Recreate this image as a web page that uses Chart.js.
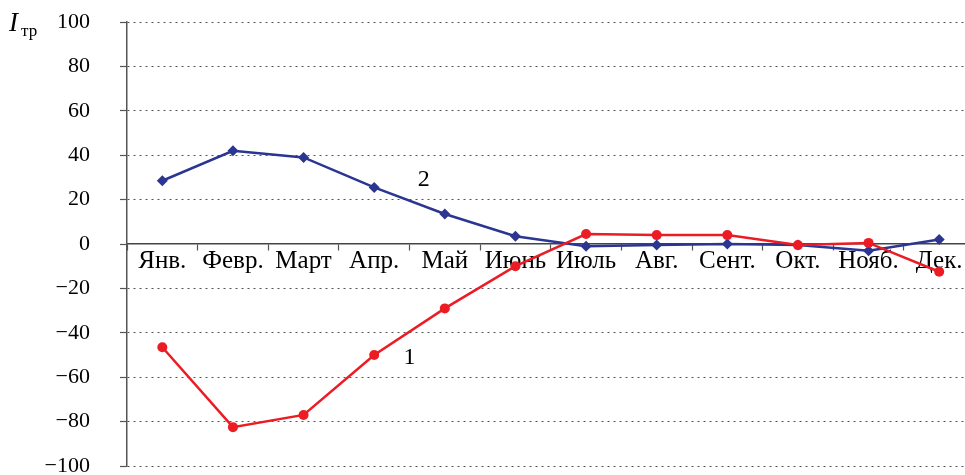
<!DOCTYPE html>
<html><head><meta charset="utf-8">
<script src="https://cdn.jsdelivr.net/npm/chart.js@4/dist/chart.umd.min.js"></script>
<style>html,body{margin:0;padding:0;background:#fff;overflow:hidden;width:965px;height:475px}
#wrap{position:relative;width:980px;height:475px}</style>
</head><body><div id="wrap"><canvas id="c" width="980" height="475"></canvas></div>
<script>
const months = ['Янв.','Февр.','Март','Апр.','Май','Июнь','Июль','Авг.','Сент.','Окт.','Нояб.','Дек.'];
const series1 = [-46.5, -82.5, -77, -50, -29, -10, 4.5, 4, 4, -0.5, 0.5, -12.5];
const series2 = [28.5, 42, 39, 25.5, 13.5, 3.5, -1, -0.5, 0, -0.5, -3, 2];
const yTicks = [-100, -80, -60, -40, -20, 0, 20, 40, 60, 80, 100];
const curveLabels = [{text:'2', x:3.7, y:29}, {text:'1', x:3.5, y:-51}];
const axisTitle = {main:'I', sub:'тр'};

const SERIF = '"Liberation Serif", "Times New Roman", serif';

const overlay = {
  id:'overlay',
  afterDatasetsDraw(chart){
    const ctx = chart.ctx, xs = chart.scales.x, ys = chart.scales.y;
    ctx.save();
    ctx.fillStyle = '#000';
    ctx.textAlign = 'center'; ctx.textBaseline = 'middle';
    ctx.font = '24px ' + SERIF;
    curveLabels.forEach(l => {
      const x0 = xs.getPixelForValue(Math.floor(l.x));
      const x1 = xs.getPixelForValue(Math.floor(l.x)+1);
      const px = x0 + (x1-x0)*(l.x-Math.floor(l.x));
      ctx.fillText(l.text, px, ys.getPixelForValue(l.y));
    });
    ctx.textAlign = 'left'; ctx.textBaseline = 'alphabetic';
    ctx.font = 'italic 27px ' + SERIF;
    ctx.fillText(axisTitle.main, 9, 31);
    ctx.font = '17px ' + SERIF;
    ctx.fillText(axisTitle.sub, 21, 36);
    ctx.restore();
  }
};

new Chart(document.getElementById('c'), {
  type:'line',
  data:{labels:months, datasets:[
    {label:'1', data:series1, borderColor:'#ec1c24', backgroundColor:'#ec1c24', borderWidth:2.5,
     pointStyle:'circle', pointRadius:5, pointBorderWidth:0, tension:0},
    {label:'2', data:series2, borderColor:'#2b3592', backgroundColor:'#2b3592', borderWidth:2.5,
     pointStyle:'rectRot', pointRadius:5.5, pointBorderWidth:0, tension:0}
  ]},
  options:{
    responsive:false, animation:false,
    layout:{padding:{top:22, bottom:9, left:0, right:3}},
    plugins:{legend:{display:false}, tooltip:{enabled:false}},
    scales:{
      x:{type:'category', position:{y:0}, offset:true,
        afterFit(s){ s.height = 0; s.paddingTop=0; s.paddingBottom=0; },
        grid:{display:true, drawOnChartArea:false, offset:true, tickLength:6, tickColor:'#555', tickWidth:1.2},
        border:{display:true, color:'#444', width:1.5},
        ticks:{autoSkip:false, maxRotation:0, minRotation:0, color:'#000', padding:-4,
          font:{family:SERIF, size:25}}
      },
      y:{min:-100, max:100,
        afterBuildTicks(s){ s.ticks = yTicks.map(v=>({value:v})); },
        afterFit(s){ s.width = 127; s.paddingTop=0; s.paddingBottom=0; },
        grid:{color:(c)=> (c.tick && c.tick.value===0) ? 'rgba(0,0,0,0)' : '#555', lineWidth:1,
          tickLength:7, tickColor:'#555', tickWidth:1.2},
        border:{display:true, color:'#555', width:1.5, dash:[2,4]},
        ticks:{color:'#000', padding:30, font:{family:SERIF, size:22},
          callback:(v)=> v<0 ? '\u2212'+Math.abs(v) : String(v)}
      }
    }
  },
  plugins:[overlay]
});
</script></body></html>
